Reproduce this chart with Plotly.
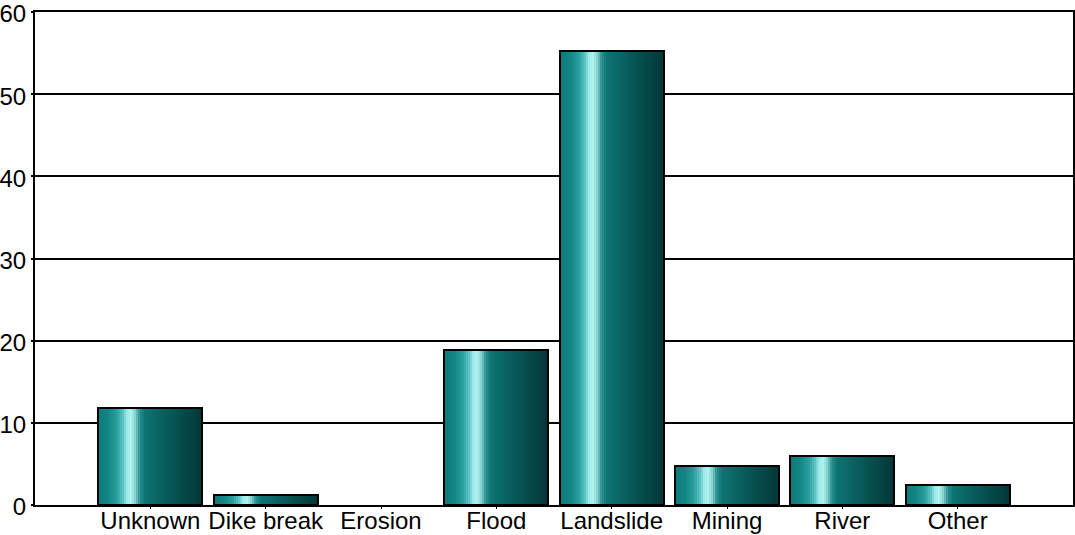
import plotly.graph_objects as go

# Share of events by cause (%)
categories = ["Unknown", "Dike break", "Erosion", "Flood", "Landslide", "Mining", "River", "Other"]
values = [11.8, 1.2, 0.0, 18.9, 55.3, 4.8, 6.0, 2.4]
y_ticks = [0, 10, 20, 30, 40, 50, 60]

# Horizontal colour profile used to give the bars a cylindrical shading
shade_stops = [
    (0.00, (11, 123, 123)),
    (0.10, (19, 133, 133)),
    (0.18, (40, 158, 158)),
    (0.24, (92, 196, 196)),
    (0.28, (160, 234, 234)),
    (0.32, (178, 242, 240)),
    (0.36, (128, 208, 204)),
    (0.40, (46, 144, 144)),
    (0.45, (14, 116, 116)),
    (0.60, (10, 98, 98)),
    (0.80, (6, 76, 76)),
    (1.00, (4, 54, 54)),
]


def shade_at(t):
    for (t0, c0), (t1, c1) in zip(shade_stops, shade_stops[1:]):
        if t0 <= t <= t1:
            f = (t - t0) / (t1 - t0) if t1 > t0 else 0
            c = [round(a + (b - a) * f) for a, b in zip(c0, c1)]
            return f"rgb({c[0]},{c[1]},{c[2]})"
    c = shade_stops[-1][1]
    return f"rgb({c[0]},{c[1]},{c[2]})"


x_idx = list(range(len(categories)))
bar_w = 0.9
n_strips = 52
strip_w = bar_w / n_strips

fig = go.Figure()
for i in range(n_strips):
    fig.add_trace(go.Bar(
        x=x_idx, y=values,
        width=strip_w * 1.15,
        offset=-bar_w / 2 + i * strip_w,
        marker=dict(color=shade_at((i + 0.5) / n_strips), line=dict(width=0)),
        hoverinfo="skip", showlegend=False,
    ))

# Outline of each bar (none for empty categories)
fig.add_trace(go.Bar(
    x=x_idx, y=values, width=bar_w, offset=-bar_w / 2,
    marker=dict(color="rgba(0,0,0,0)",
                line=dict(color="black", width=[2 if v > 0 else 0 for v in values])),
    showlegend=False, name="",
))

fig.update_layout(
    barmode="overlay",
    width=1075, height=535,
    margin=dict(l=35, r=2, t=12, b=30),
    paper_bgcolor="white", plot_bgcolor="white",
    font=dict(family="Liberation Sans, Arial, sans-serif", size=24, color="black"),
    bargap=0,
)
fig.update_xaxes(
    range=[-1, 8], tickmode="array", tickvals=x_idx, ticktext=categories,
    showgrid=False, zeroline=False, showline=True, linecolor="black", linewidth=2,
    mirror=True, ticks="outside", ticklen=2, tickcolor="black", tickwidth=1,
    automargin=False, ticklabelstandoff=-9,
)
fig.update_yaxes(
    range=[0, 60], tickmode="array", tickvals=y_ticks,
    showgrid=True, gridcolor="black", gridwidth=1.5, zeroline=False,
    showline=True, linecolor="black", linewidth=2, mirror=True,
    ticks="outside", ticklen=2, tickcolor="black", tickwidth=1.5,
    automargin=False, ticklabeloverflow="allow", ticklabelstandoff=0,
    ticklabelshift=2,
)

fig.write_html("out.html")
